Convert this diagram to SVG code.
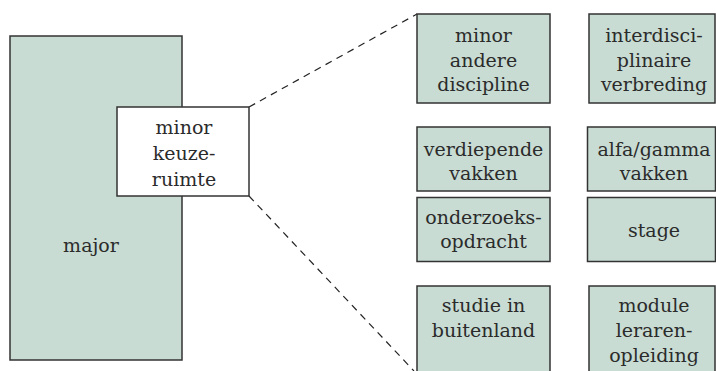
<svg xmlns="http://www.w3.org/2000/svg" width="716" height="371" viewBox="0 0 716 371">
<style>
.box{fill:#c8dcd3;stroke:#333;stroke-width:1.5}
.wbox{fill:#fff;stroke:#333;stroke-width:1.5}
.t{font-family:"DejaVu Serif","Liberation Serif",serif;font-size:19px;fill:#2b2b2b;text-anchor:middle}
.dash{fill:none;stroke:#222;stroke-width:1.2;stroke-dasharray:7 5.5}
</style>
<rect width="716" height="371" fill="#fff"/>
<g id="connectors">
<line class="dash" x1="249" y1="107" x2="417" y2="14"/>
<line class="dash" x1="249" y1="196" x2="414" y2="371"/>
</g>
<g id="major">
<rect class="box" x="10" y="36" width="172" height="324"/>
<text class="t" x="91" y="252">major</text>
</g>
<g id="minor-keuzeruimte">
<rect class="wbox" x="117" y="107" width="132" height="89"/>
<text class="t" x="184" y="134">minor</text>
<text class="t" x="184" y="160">keuze-</text>
<text class="t" x="184" y="185.5">ruimte</text>
</g>
<g id="minor-andere-discipline">
<rect class="box" x="417" y="14" width="133" height="89"/>
<text class="t" x="483.5" y="42">minor</text>
<text class="t" x="483.5" y="66.5">andere</text>
<text class="t" x="483.5" y="91">discipline</text>
</g>
<g id="interdisciplinaire-verbreding">
<rect class="box" x="589" y="14" width="126" height="89"/>
<text class="t" x="654" y="42">interdisci-</text>
<text class="t" x="654" y="66.5">plinaire</text>
<text class="t" x="654" y="91">verbreding</text>
</g>
<g id="verdiepende-vakken">
<rect class="box" x="417" y="127" width="133" height="64"/>
<text class="t" x="483.5" y="156">verdiepende</text>
<text class="t" x="483.5" y="180">vakken</text>
</g>
<g id="alfa-gamma-vakken">
<rect class="box" x="587.5" y="127" width="128" height="64"/>
<text class="t" x="654" y="156">alfa/gamma</text>
<text class="t" x="654" y="180">vakken</text>
</g>
<g id="onderzoeksopdracht">
<rect class="box" x="417" y="197.5" width="133" height="64"/>
<text class="t" x="483.5" y="223.5">onderzoeks-</text>
<text class="t" x="483.5" y="248">opdracht</text>
</g>
<g id="stage">
<rect class="box" x="587.5" y="197.5" width="128" height="64"/>
<text class="t" x="654" y="236.5">stage</text>
</g>
<g id="studie-in-buitenland">
<rect class="box" x="417" y="286" width="133" height="100"/>
<text class="t" x="483.5" y="311.5">studie in</text>
<text class="t" x="483.5" y="336.5">buitenland</text>
</g>
<g id="module-lerarenopleiding">
<rect class="box" x="589" y="286" width="126" height="100"/>
<text class="t" x="654" y="311.5">module</text>
<text class="t" x="654" y="336.5">leraren-</text>
<text class="t" x="654" y="361.5">opleiding</text>
</g>
</svg>
